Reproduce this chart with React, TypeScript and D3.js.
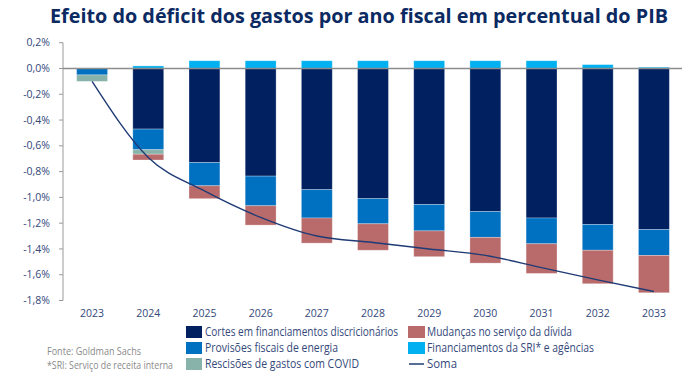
import React from "react";
import * as d3 from "d3";

const years = ["2023","2024","2025","2026","2027","2028","2029","2030","2031","2032","2033"];
const cortes = [0, -0.47, -0.73, -0.835, -0.94, -1.01, -1.055, -1.11, -1.16, -1.21, -1.25];
const provisoes = [-0.05, -0.16, -0.18, -0.23, -0.22, -0.195, -0.205, -0.2, -0.2, -0.2, -0.2];
const covid = [-0.05, -0.035, 0, 0, 0, 0, 0, 0, 0, 0, 0];
const mudancas = [0, -0.045, -0.1, -0.15, -0.195, -0.205, -0.2, -0.2, -0.23, -0.26, -0.29];
const sri = [0, 0.02, 0.06, 0.06, 0.06, 0.06, 0.06, 0.06, 0.06, 0.03, 0.01];
const soma = [-0.1, -0.69, -0.95, -1.155, -1.3, -1.35, -1.4, -1.45, -1.545, -1.64, -1.73];
const yTicks = [0.2, 0, -0.2, -0.4, -0.6, -0.8, -1.0, -1.2, -1.4, -1.6, -1.8];

const keys = ["cortes", "provisoes", "covid", "mudancas", "sri"];
const labels: Record<string, string> = {
  cortes: "Cortes em financiamentos discricionários",
  provisoes: "Provisões fiscais de energia",
  covid: "Rescisões de gastos com COVID",
  mudancas: "Mudanças no serviço da dívida",
  sri: "Financiamentos da SRI* e agências",
};
const colors: Record<string, string> = {
  cortes: "#002060",
  provisoes: "#0070c0",
  covid: "#88b3ab",
  mudancas: "#b96b6b",
  sri: "#00b0f0",
};

const rows = years.map((y, i) => ({
  year: y,
  cortes: cortes[i],
  provisoes: provisoes[i],
  covid: covid[i],
  mudancas: mudancas[i],
  sri: sri[i],
}));

const FONT = "'Open Sans', 'Noto Sans', sans-serif";
const TEXT = "#34487a";

export default function App() {
  const x = d3.scaleBand<string>().domain(years).range([64, 682]).paddingInner(0.45).paddingOuter(0.225);
  const y = d3.scaleLinear().domain([-1.8, 0.2]).range([300.5, 42.7]);
  const stack = d3.stack<any>().keys(keys).offset(d3.stackOffsetDiverging);
  const series = stack(rows);
  const line = d3
    .line<number>()
    .x((_, i) => (x(years[i]) as number) + x.bandwidth() / 2)
    .y((d) => y(d))
    .curve(d3.curveMonotoneX);
  const fmt = (v: number) => (v < 0 ? "-" : "") + Math.abs(v).toFixed(1).replace(".", ",") + "%";

  const legendLeft = [
    { k: "cortes", y: 332, w: 193 },
    { k: "provisoes", y: 348, w: 133 },
    { k: "covid", y: 364, w: 154 },
  ];
  const legendRight = [
    { k: "mudancas", y: 332, w: 145 },
    { k: "sri", y: 348, w: 167 },
  ];

  return (
    <svg width={692} height={377} style={{ position: "absolute", left: 0, top: 0, background: "#fff" }}>
      <text x={50} y={23} fontFamily={FONT} fontWeight={700} fontSize={20} fill="#0c2a62" textLength={618} lengthAdjust="spacingAndGlyphs">
        Efeito do déficit dos gastos por ano fiscal em percentual do PIB
      </text>

      {/* y axis */}
      <line x1={63} x2={63} y1={y(0.2)} y2={y(-1.8)} stroke="#9a9a9a" strokeWidth={1} />
      {yTicks.map((t) => (
        <g key={t}>
          <line x1={59} x2={63} y1={y(t)} y2={y(t)} stroke="#9a9a9a" strokeWidth={1} />
          <text x={50} y={y(t)} dy="0.35em" textAnchor="end" fontFamily={FONT} fontSize={10.5} fill={TEXT}>
            {fmt(t)}
          </text>
        </g>
      ))}

      {/* bars */}
      {series.map((s) => (
        <g key={s.key}>
          {s.map((d, i) => {
            const h = Math.abs(y(d[0]) - y(d[1]));
            if (h < 0.01) return null;
            return (
              <rect
                key={i}
                x={x(years[i])}
                width={x.bandwidth()}
                y={Math.min(y(d[0]), y(d[1]))}
                height={h}
                fill={colors[s.key]}
                stroke="rgba(255,255,255,0.35)"
                strokeWidth={0.8}
              />
            );
          })}
        </g>
      ))}

      {/* zero line */}
      <line x1={63} x2={682} y1={y(0)} y2={y(0)} stroke="#8c8c8c" strokeWidth={1.5} />

      {/* soma line */}
      <path d={line(soma) || ""} fill="none" stroke="#1f3b75" strokeWidth={1.4} />

      {/* x labels */}
      {years.map((yr) => (
        <text key={yr} x={(x(yr) as number) + x.bandwidth() / 2} y={317} textAnchor="middle" fontFamily={FONT} fontSize={10.5} fill={TEXT}>
          {yr}
        </text>
      ))}

      {/* legend */}
      {legendLeft.map((l) => (
        <g key={l.k}>
          <rect x={186} y={l.y - 6} width={16} height={12} fill={colors[l.k]} />
          <text x={205} y={l.y} dy="0.35em" fontFamily={FONT} fontSize={12} fill={TEXT} textLength={l.w} lengthAdjust="spacingAndGlyphs">
            {labels[l.k]}
          </text>
        </g>
      ))}
      {legendRight.map((l) => (
        <g key={l.k}>
          <rect x={408} y={l.y - 6} width={17} height={12} fill={colors[l.k]} />
          <text x={427} y={l.y} dy="0.35em" fontFamily={FONT} fontSize={12} fill={TEXT} textLength={l.w} lengthAdjust="spacingAndGlyphs">
            {labels[l.k]}
          </text>
        </g>
      ))}
      <line x1={409} x2={424} y1={364} y2={364} stroke="#1f3b75" strokeWidth={1.5} />
      <text x={427} y={364} dy="0.35em" fontFamily={FONT} fontSize={12} fill={TEXT} textLength={30} lengthAdjust="spacingAndGlyphs">
        Soma
      </text>

      <text x={47} y={351} dy="0.35em" fontFamily={FONT} fontSize={10} fill="#8a8a8a" textLength={94} lengthAdjust="spacingAndGlyphs">
        Fonte: Goldman Sachs
      </text>
      <text x={47} y={365} dy="0.35em" fontFamily={FONT} fontSize={10} fill="#8a8a8a" textLength={126} lengthAdjust="spacingAndGlyphs">
        *SRI: Serviço de receita interna
      </text>
    </svg>
  );
}
